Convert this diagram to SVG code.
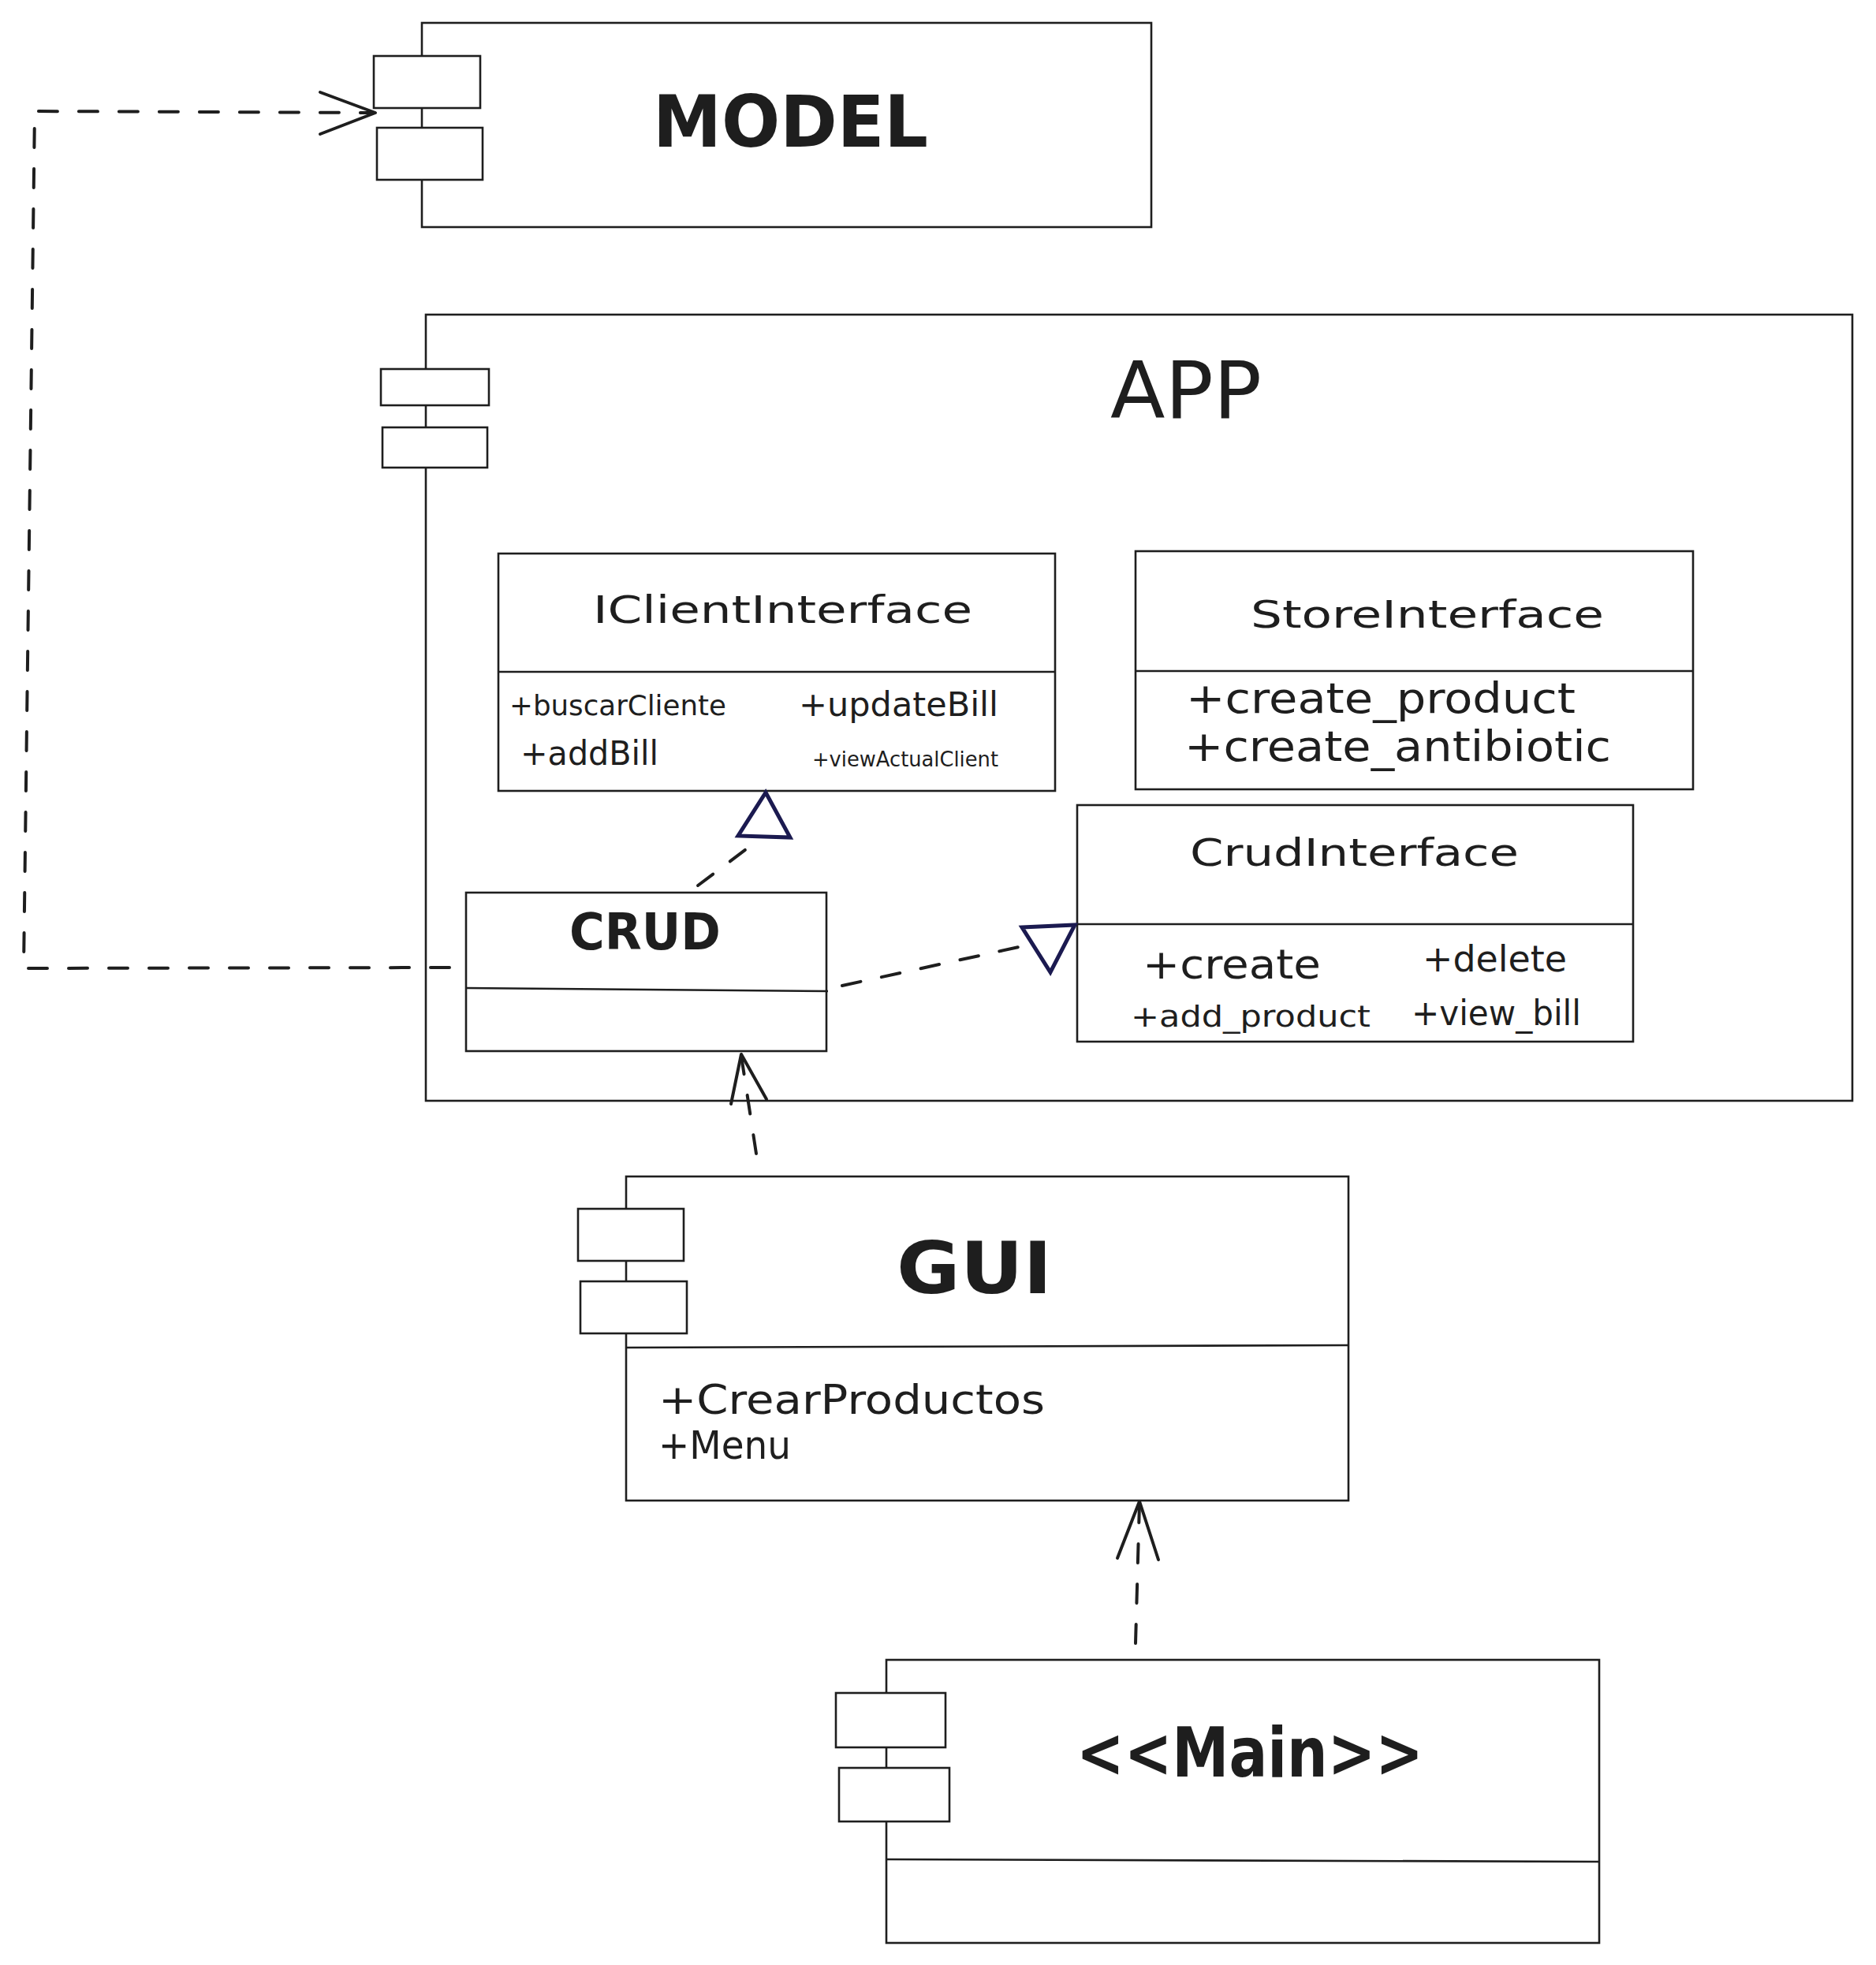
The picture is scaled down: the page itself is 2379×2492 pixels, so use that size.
<svg xmlns="http://www.w3.org/2000/svg" width="2379" height="2492" viewBox="0 0 2379 2492">
<style>
.box{fill:#ffffff;stroke:#1e1e1e;stroke-width:2.6}
.line{fill:none;stroke:#1e1e1e;stroke-width:2.6}
.conn{fill:none;stroke:#1e1e1e;stroke-width:4;stroke-linecap:round;stroke-linejoin:round}
.dash{stroke-dasharray:24 27}
.tri{fill:none;stroke:#1b1a50;stroke-width:5;stroke-linejoin:miter}
text{font-family:"DejaVu Sans","Liberation Sans",sans-serif;fill:#1e1e1e}
.title{font-weight:bold}
</style>
<rect width="2379" height="2492" fill="#ffffff"/>

<g id="model">
<rect class="box" x="535" y="29" width="925" height="259"/>
<rect class="box" x="474" y="71" width="135" height="66"/>
<rect class="box" x="478" y="162" width="134" height="66"/>
<text class="title" x="828" y="186" font-size="90" textLength="349" lengthAdjust="spacingAndGlyphs">MODEL</text>
</g>

<g id="app">
<rect class="box" x="540" y="399" width="1809" height="997"/>
<rect class="box" x="483" y="468" width="137" height="46"/>
<rect class="box" x="485" y="542" width="133" height="51"/>
<text x="1408" y="530" font-size="100" textLength="192" lengthAdjust="spacingAndGlyphs">APP</text>
</g>

<g id="iclientinterface">
<rect class="box" x="632" y="702" width="706" height="301"/>
<line class="line" x1="632" y1="852" x2="1338" y2="852"/>
<text x="752" y="790" font-size="48" textLength="481" lengthAdjust="spacingAndGlyphs">IClientInterface</text>
<text x="646" y="907" font-size="36" textLength="275" lengthAdjust="spacingAndGlyphs">+buscarCliente</text>
<text x="1013" y="908" font-size="42" textLength="253" lengthAdjust="spacingAndGlyphs">+updateBill</text>
<text x="660" y="970" font-size="42" textLength="175" lengthAdjust="spacingAndGlyphs">+addBill</text>
<text x="1030" y="972" font-size="27" textLength="236" lengthAdjust="spacingAndGlyphs">+viewActualClient</text>
</g>

<g id="storeinterface">
<rect class="box" x="1440" y="699" width="707" height="302"/>
<line class="line" x1="1440" y1="851" x2="2147" y2="851"/>
<text x="1586" y="796" font-size="48" textLength="448" lengthAdjust="spacingAndGlyphs">StoreInterface</text>
<text x="1504" y="904" font-size="54" textLength="494" lengthAdjust="spacingAndGlyphs">+create_product</text>
<text x="1502" y="965" font-size="54" textLength="541" lengthAdjust="spacingAndGlyphs">+create_antibiotic</text>
</g>

<g id="crudinterface">
<rect class="box" x="1366" y="1021" width="705" height="300"/>
<line class="line" x1="1366" y1="1172" x2="2071" y2="1172"/>
<text x="1509" y="1098" font-size="48" textLength="417" lengthAdjust="spacingAndGlyphs">CrudInterface</text>
<text x="1449" y="1241" font-size="52" textLength="226" lengthAdjust="spacingAndGlyphs">+create</text>
<text x="1804" y="1232" font-size="46" textLength="183" lengthAdjust="spacingAndGlyphs">+delete</text>
<text x="1434" y="1302" font-size="38" textLength="304" lengthAdjust="spacingAndGlyphs">+add_product</text>
<text x="1790" y="1300" font-size="44" textLength="215" lengthAdjust="spacingAndGlyphs">+view_bill</text>
</g>

<g id="crud">
<rect class="box" x="591" y="1132" width="457" height="201"/>
<line class="line" x1="591" y1="1253" x2="1050" y2="1257"/>
<text class="title" x="722" y="1204" font-size="64" textLength="192" lengthAdjust="spacingAndGlyphs">CRUD</text>
</g>

<g id="gui">
<rect class="box" x="794" y="1492" width="916" height="411"/>
<rect class="box" x="733" y="1533" width="134" height="66"/>
<rect class="box" x="736" y="1625" width="135" height="66"/>
<line class="line" x1="794" y1="1709" x2="1710" y2="1706"/>
<text class="title" x="1137" y="1640" font-size="90" textLength="197" lengthAdjust="spacingAndGlyphs">GUI</text>
<text x="835" y="1793" font-size="52" textLength="490" lengthAdjust="spacingAndGlyphs">+CrearProductos</text>
<text x="835" y="1850" font-size="50" textLength="168" lengthAdjust="spacingAndGlyphs">+Menu</text>
</g>

<g id="main">
<rect class="box" x="1124" y="2105" width="904" height="359"/>
<rect class="box" x="1060" y="2147" width="139" height="69"/>
<rect class="box" x="1064" y="2242" width="140" height="68"/>
<line class="line" x1="1124" y1="2358" x2="2028" y2="2361"/>
<text class="title" x="1365" y="2253" font-size="88" textLength="440" lengthAdjust="spacingAndGlyphs">&lt;&lt;Main&gt;&gt;</text>
</g>

<g id="connectors">
<!-- CRUD to MODEL dependency -->
<path class="conn dash" d="M570 1227 L30 1228 L44 141 L474 143"/>
<path class="conn" d="M406 117 L476 143 L406 170"/>
<!-- CRUD realizes IClientInterface -->
<path class="conn dash" d="M885 1123 L950 1074"/>
<polygon class="tri" points="971,1005 936,1060 1002,1062"/>
<!-- CRUD realizes CrudInterface -->
<path class="conn dash" d="M1068 1250 L1292 1201"/>
<polygon class="tri" points="1296,1176 1363,1173 1332,1233"/>
<!-- GUI to CRUD dependency -->
<path class="conn dash" d="M959 1463 L940 1339"/>
<path class="conn" d="M927 1400 L940 1337 L972 1394"/>
<!-- Main to GUI dependency -->
<path class="conn dash" d="M1440 2084 L1445 1906"/>
<path class="conn" d="M1417 1976 L1445 1904 L1469 1978"/>
</g>
</svg>
